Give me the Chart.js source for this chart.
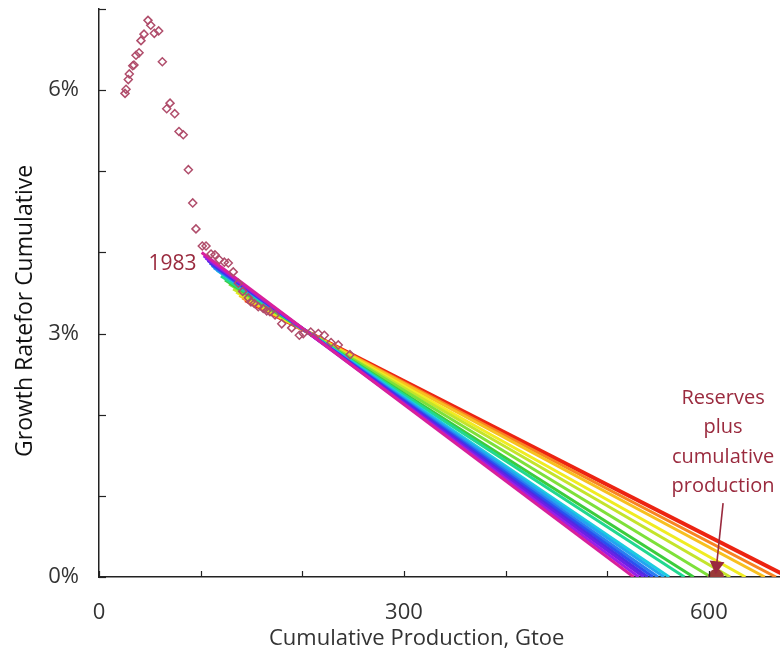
<!DOCTYPE html>
<html>
<head>
<meta charset="utf-8">
<script src="https://cdn.jsdelivr.net/npm/chart.js@4"></script>
<style>
html,body{margin:0;padding:0;background:#fff;}
</style>
</head>
<body>
<canvas id="c" width="780" height="658"></canvas>
<script>
// ---- data ----
// cumulative production (Gtoe) and growth rate of cumulative (%)
const cumProd = [25.6,26.6,28.8,29.8,33.2,34.4,36.4,39.4,41.3,44.3,48.2,50.9,54.4,58.7,62.3,66.6,69.9,74.5,78.7,82.9,87.9,92.2,95.4,101.6,105.3,110.2,114.1,118.4,123.3,127.2,132.1,137.1,141.4,146.9,149.5,152.8,156.7,161.6,165.0,168.2,173.2,179.8,189.6,197.1,201.0,208.3,215.8,221.7,228.3,235.4,246.9];
const growthRate = [5.96,6.01,6.13,6.20,6.30,6.31,6.43,6.46,6.61,6.69,6.86,6.80,6.70,6.73,6.35,5.77,5.84,5.71,5.49,5.45,5.02,4.61,4.29,4.08,4.08,3.98,3.97,3.91,3.88,3.87,3.76,3.62,3.52,3.44,3.39,3.37,3.33,3.31,3.28,3.27,3.23,3.12,3.07,2.98,3.00,3.02,3.00,2.98,2.89,2.86,2.74];

// fitted trend lines (from 1983): start point and x-intercept (growth = 0)
const fitStartX = [101,103,105,107,109,111,113,116,120,124,128,132,135,138,141,144];
const fitStartY = [4.00,3.96,3.93,3.90,3.87,3.84,3.81,3.78,3.71,3.66,3.61,3.55,3.51,3.47,3.44,3.41];
const fitEndX   = [526,531,536,540,545,550,556,561,576,585,602,621,636,655,666,678];
const fitColors = ['#d8209c','#9a1ee6','#6a22e6','#4a2ee4','#2a50f0','#2a7cf0','#22a6f0','#1ccce0','#22d890','#3ccc3c','#7ee03a','#c4e42c','#f0ec22','#f8c020','#f88422','#ec2412'];

// reserves plus cumulative production marker and its arrow
const reservesX = [607];
const reservesY = [0];
const arrowX = [614, 607.6];
const arrowY = [0.91, 0.14];

const xTicks = [0,100,200,300,400,500,600];
const xLabels = [0,300,600];
const yTicks = [0,1,2,3,4,5,6,7];
const yLabels = [0,3,6];

// ---- build datasets ----
const datasets = [];
fitStartX.forEach((sx, i) => {
  datasets.push({
    type:'scatter', showLine:true,
    data:[{x:sx, y:fitStartY[i]}, {x:fitEndX[i], y:0}],
    borderColor:fitColors[i], backgroundColor:fitColors[i],
    borderWidth: i === fitStartX.length - 1 ? 4 : 3,
    pointRadius:0, pointHoverRadius:0, order:1
  });
});
datasets.push({
  type:'scatter',
  data: cumProd.map((x,i)=>({x, y:growthRate[i]})),
  pointStyle:'rectRot', pointRadius:4, borderWidth:1.5,
  borderColor:'#b04d6b', backgroundColor:'rgba(255,255,255,0)', order:0
});
datasets.push({
  type:'scatter', showLine:true,
  data: arrowX.map((x,i)=>({x, y:arrowY[i]})),
  borderColor:'#9a2a3e', borderWidth:1.6,
  pointRadius:[0,7], pointStyle:'triangle', rotation:[0,186],
  pointBackgroundColor:'#9a2a3e', pointBorderColor:'#9a2a3e', order:0
});
datasets.push({
  type:'scatter',
  data: reservesX.map((x,i)=>({x, y:reservesY[i]})),
  pointStyle:'circle', pointRadius:7.5,
  backgroundColor:'#9a3a38', borderColor:'#9a3a38', order:0
});

const FONT = '"Open Sans", "Noto Sans", sans-serif';

const decorPlugin = {
  id:'decor',
  afterDatasetsDraw(chart){
    const {ctx, scales:{x, y}, chartArea} = chart;
    ctx.save();
    // inward tick marks
    ctx.strokeStyle = '#222';
    ctx.lineWidth = 1.2;
    xTicks.forEach(v => {
      const px = Math.round(x.getPixelForValue(v)) + 0.5;
      ctx.beginPath(); ctx.moveTo(px, chartArea.bottom); ctx.lineTo(px, chartArea.bottom - 6); ctx.stroke();
    });
    yTicks.forEach(v => {
      const py = Math.round(y.getPixelForValue(v)) + 0.5;
      ctx.beginPath(); ctx.moveTo(chartArea.left, py); ctx.lineTo(chartArea.left + 7, py); ctx.stroke();
    });
    // annotations
    ctx.fillStyle = '#9a2a3e';
    ctx.font = '21px ' + FONT;
    ctx.textAlign = 'right'; ctx.textBaseline = 'middle';
    ctx.fillText('1983', x.getPixelForValue(96), y.getPixelForValue(3.86));
    ctx.textAlign = 'center';
    ctx.font = '20px ' + FONT;
    const lines = ['Reserves','plus','cumulative','production'];
    const cx = x.getPixelForValue(614);
    lines.forEach((t,i) => {
      ctx.fillText(t, cx, y.getPixelForValue(2.2) + i*29.3);
    });
    ctx.restore();
  }
};

new Chart(document.getElementById('c'), {
  type:'scatter',
  data:{datasets},
  options:{
    responsive:false,
    animation:false,
    devicePixelRatio:1,
    layout:{autoPadding:false, padding:{top:9, right:0, left:0, bottom:0}},
    plugins:{legend:{display:false}, tooltip:{enabled:false}},
    scales:{
      x:{
        type:'linear', min:0, max:670,
        afterBuildTicks(s){ s.ticks = xTicks.map(v=>({value:v})); },
        afterFit(s){ s.height = 81; s.paddingLeft = 0; s.paddingRight = 0; },
        grid:{display:false, drawTicks:false},
        border:{display:true, color:'#222', width:1.5},
        ticks:{
          padding:23, color:'#333', maxRotation:0,
          font:{family:FONT, size:22},
          callback:(v)=> xLabels.includes(v) ? String(v) : ''
        },
        title:{display:true, text:'Cumulative Production, Gtoe        ', color:'#333',
          font:{family:FONT, size:22}, padding:{top:0, bottom:6}}
      },
      y:{
        type:'linear', min:0, max:7,
        afterBuildTicks(s){ s.ticks = yTicks.map(v=>({value:v})); },
        afterFit(s){ s.width = 99; s.paddingTop = 0; s.paddingBottom = 0; },
        grid:{display:false, drawTicks:false},
        border:{display:true, color:'#222', width:1.5},
        ticks:{
          padding:20, color:'#333',
          font:{family:FONT, size:22},
          callback:(v)=> yLabels.includes(v) ? v + '%' : ''
        },
        title:{display:true, text:'Growth Ratefor Cumulative      ', color:'#111',
          font:{family:FONT, size:23}, padding:{top:12, bottom:0}}
      }
    }
  },
  plugins:[decorPlugin]
});
</script>
</body>
</html>
